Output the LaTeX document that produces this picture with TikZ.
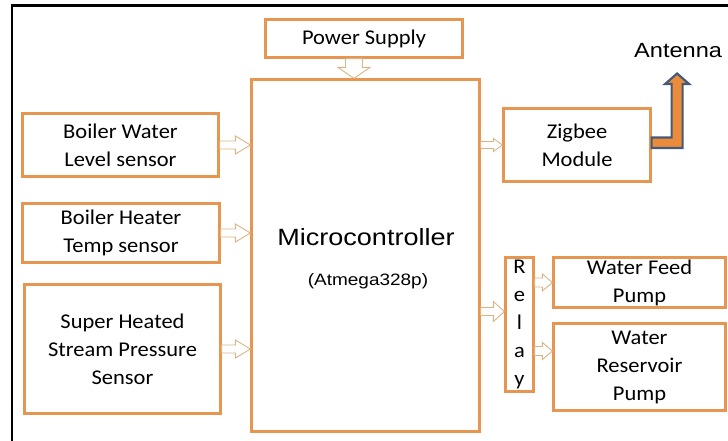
\documentclass[tikz,border=0pt]{standalone}
\usepackage{fontspec}
\setmainfont{Carlito}[FakeStretch=1.07]
\newfontfamily\arialfont{Liberation Sans}[FakeStretch=1.15]
\usetikzlibrary{calc}

\definecolor{boxorange}{RGB}{230,150,80}
\definecolor{arrowtan}{RGB}{218,180,130}
\definecolor{antfill}{RGB}{235,140,60}
\definecolor{antline}{RGB}{70,90,120}

\tikzset{
  block/.style={draw=boxorange, line width=2.2pt, align=center, inner sep=0pt,
    font=\fontsize{21}{28}\selectfont},
  hollow/.style={draw=arrowtan, line width=0.9pt, line join=miter},
  antarrow/.style={draw=antline, fill=antfill, line width=2.2pt, line join=miter},
}

% hollow block arrow pointing right: from, to, shaft half, head half, head length
\newcommand{\rarrow}[5]{%
  \draw[hollow] let \p1=(#1), \p2=(#2) in
    ({\x1},{\y1+#3pt}) -- ({\x2-#5pt},{\y1+#3pt}) -- ({\x2-#5pt},{\y1+#4pt}) -- (\x2,\y1)
    -- ({\x2-#5pt},{\y1-#4pt}) -- ({\x2-#5pt},{\y1-#3pt}) -- ({\x1},{\y1-#3pt}) -- cycle;}
% hollow block arrow pointing down: from, to, shaft half, head half, head length
\newcommand{\darrow}[5]{%
  \draw[hollow] let \p1=(#1), \p2=(#2) in
    ({\x1-#3pt},{\y1}) -- ({\x1-#3pt},{\y2+#5pt}) -- ({\x1-#4pt},{\y2+#5pt}) -- (\x1,\y2)
    -- ({\x1+#4pt},{\y2+#5pt}) -- ({\x1+#3pt},{\y2+#5pt}) -- ({\x1+#3pt},{\y1}) -- cycle;}

\begin{document}
\begin{tikzpicture}[x=1pt,y=-1pt]
    \useasboundingbox (0,0) rectangle (728,441);

    % outer frame
    \draw[line width=2.8pt] (12,446) -- (12,5.5) -- (733,5.5);

    % the blocks
    \node[block, minimum width=197pt, minimum height=38pt] (ps) at (364,38.5) {Power Supply};
    \node[block, minimum width=228pt, minimum height=352pt] (mc) at (365.5,255.5) {};
    \node[anchor=base, font=\arialfont\fontsize{23.5}{26}\selectfont] (mctitle) at (366,245) {Microcontroller};
    \node[anchor=base, font=\arialfont\fontsize{16.5}{18}\selectfont] (mcchip) at (368,285) {(Atmega328p)};

    \node[block, minimum width=196pt, minimum height=63pt] (bw) at (120.5,145) {Boiler Water\\Level sensor};
    \node[block, minimum width=197pt, minimum height=59pt] (bh) at (121,233) {Boiler Heater\\Temp sensor};
    \node[block, minimum width=196pt, minimum height=129pt] (sh) at (122.5,349) {Super Heated\\Stream Pressure\\Sensor};

    \node[block, minimum width=147pt, minimum height=73pt] (zb) at (577,145) {Zigbee\\Module};
    \node[block, minimum width=28pt, minimum height=134pt] (rl) at (519.5,324.5) {R\\e\\l\\a\\y};
    \node[block, minimum width=172pt, minimum height=50pt] (wf) at (639.5,282.5) {Water Feed\\Pump};
    \node[block, minimum width=172pt, minimum height=87pt] (wr) at (639.5,367) {Water\\Reservoir\\Pump};

    \node[anchor=base west, inner sep=0pt, font=\arialfont\fontsize{20.5}{24}\selectfont] (ant) at (634,58) {Antenna};

    % connectors
    \coordinate (psout) at ($(ps.south)+(-10,0)$);
    \coordinate (rlin) at ($(rl.west)+(0,-13)$);
    \coordinate (wrin) at ($(wr.west)+(0,-16)$);

    \darrow{psout}{psout |- mc.north}{8.5}{16}{11}
    \rarrow{bw.east}{bw.east -| mc.west}{4}{9}{15}
    \rarrow{bh.east}{bh.east -| mc.west}{4}{9}{15}
    \rarrow{sh.east}{sh.east -| mc.west}{4}{9}{15}
    \rarrow{mc.east |- zb.west}{zb.west}{3.5}{6.5}{9}
    \rarrow{mc.east |- rlin}{rlin}{4}{10}{11}
    \rarrow{rl.east |- wf.west}{wf.west}{4.5}{8.5}{10}
    \rarrow{rl.east |- wrin}{wrin}{4.5}{8.5}{10}

    % antenna link
    \draw[antarrow] ($(zb.east)+(0,-7.5)$) -- ++(20,0) -- ++(0,-53.5) -- ++(-6.5,0)
        -- ++(12,-10.5) -- ++(12,10.5) -- ++(-6.5,0) -- ++(0,64) -- ++(-31,0) -- cycle;
\end{tikzpicture}
\end{document}
